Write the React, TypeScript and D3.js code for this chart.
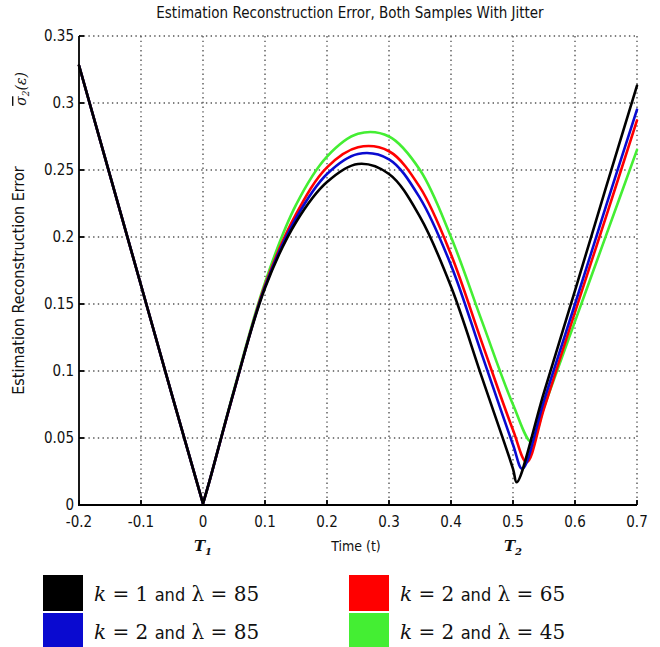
import React from "react";
import * as d3 from "d3";

// Shared sample times (seconds)
const TIME = [-0.2, -0.15, -0.1, -0.05, 0, 0.01, 0.05, 0.1, 0.15, 0.2, 0.25, 0.3, 0.35, 0.4, 0.45, 0.5, 0.55, 0.6, 0.65, 0.7];

// Estimation reconstruction error for each parameter set, at TIME
const ERR_K1_L85 = [0.328, 0.246, 0.164, 0.082, 0.001, 0.017, 0.085, 0.162, 0.211, 0.241, 0.2545, 0.247, 0.215, 0.163, 0.095, 0.027, 0.084, 0.16, 0.237, 0.313];
const ERR_K2_L85 = [0.328, 0.246, 0.164, 0.082, 0.001, 0.017, 0.085, 0.163, 0.214, 0.247, 0.262, 0.258, 0.229, 0.179, 0.112, 0.045, 0.078, 0.15, 0.223, 0.295];
const ERR_K2_L65 = [0.328, 0.246, 0.164, 0.082, 0.001, 0.017, 0.085, 0.164, 0.217, 0.252, 0.267, 0.264, 0.237, 0.187, 0.121, 0.056, 0.072, 0.144, 0.215, 0.287];
const ERR_K2_L45 = [0.328, 0.246, 0.164, 0.082, 0.001, 0.017, 0.086, 0.166, 0.224, 0.26, 0.277, 0.275, 0.25, 0.2, 0.137, 0.075, 0.073, 0.137, 0.201, 0.265];

// Minimum of each curve near T2: time and value
const TROUGH_T = [0.506, 0.515, 0.522, 0.53];
const TROUGH_V = [0.017, 0.027, 0.032, 0.047];

const SERIES_LABEL_K = ["1", "2", "2", "2"];
const SERIES_LABEL_L = ["85", "85", "65", "45"];
const SERIES_COLOR = ["#000000", "#0a0ad0", "#ff0000", "#44ee33"];
const SERIES_VALUES = [ERR_K1_L85, ERR_K2_L85, ERR_K2_L65, ERR_K2_L45];

const X_TICKS = [-0.2, -0.1, 0, 0.1, 0.2, 0.3, 0.4, 0.5, 0.6, 0.7];
const Y_TICKS = [0, 0.05, 0.1, 0.15, 0.2, 0.25, 0.3, 0.35];

const W = 660;
const H = 647;
const LEFT = 79;
const RIGHT = 637;
const TOP = 36;
const BOTTOM = 505;

const NARROW = "'DejaVu Sans Condensed', 'Liberation Sans Narrow', 'Arial Narrow', 'Liberation Sans', Arial, sans-serif";
const MATH = "'DejaVu Serif', 'Liberation Serif', serif";

export default function App() {
  const x = d3.scaleLinear().domain([-0.2, 0.7]).range([LEFT, RIGHT]);
  const y = d3.scaleLinear().domain([0, 0.35]).range([BOTTOM, TOP]);

  const straight = d3
    .line<[number, number]>()
    .x((d) => x(d[0]))
    .y((d) => y(d[1]));
  const smooth = d3
    .line<[number, number]>()
    .x((d) => x(d[0]))
    .y((d) => y(d[1]))
    .curve(d3.curveCatmullRom.alpha(0.5));

  // straight flank before T1, then a smooth curve through the arch, the trough and the rising flank
  const seriesPath = SERIES_VALUES.map((vals, i) => {
    const pts: [number, number][] = TIME.map((t, j) => [t, vals[j]]);
    pts.push([TROUGH_T[i], TROUGH_V[i]]);
    pts.sort((a, b) => a[0] - b[0]);
    const left = pts.filter((p) => p[0] <= 0);
    const rest = pts.filter((p) => p[0] >= 0);
    return (straight(left) || "") + (smooth(rest) || "");
  });

  // draw order: green, red, blue, black on top
  const order = [3, 2, 1, 0];

  const fmt = (v: number) => String(Math.round(v * 100) / 100);

  const legendPos = [
    { lx: 43, ly: 575 },
    { lx: 43, ly: 613 },
    { lx: 349, ly: 575 },
    { lx: 349, ly: 613 },
  ];

  return (
    <svg
      width={W}
      height={H}
      style={{ position: "absolute", left: 0, top: 0, background: "#fff" }}
    >
      <rect x={0} y={0} width={W} height={H} fill="#fff" />

      {/* title */}
      <text
        x={(LEFT + RIGHT) / 2 - 8}
        y={18}
        textAnchor="middle"
        fontFamily={NARROW}
        fontSize={15}
        fill="#111"
      >
        Estimation Reconstruction Error, Both Samples With Jitter
      </text>

      {/* dotted grid */}
      <g stroke="#555" strokeWidth={1.4} strokeDasharray="1.4,3.3" fill="none">
        {X_TICKS.filter((t) => t > -0.2).map((t) => (
          <line key={"gx" + t} x1={x(t)} x2={x(t)} y1={TOP} y2={BOTTOM} />
        ))}
        {Y_TICKS.filter((t) => t > 0).map((t) => (
          <line key={"gy" + t} x1={LEFT} x2={RIGHT} y1={y(t)} y2={y(t)} />
        ))}
      </g>

      {/* curves */}
      <g fill="none" strokeWidth={2.6} strokeLinejoin="round" strokeLinecap="round">
        {order.map((i) => (
          <path key={"s" + i} d={seriesPath[i]} stroke={SERIES_COLOR[i]} />
        ))}
      </g>

      {/* axes */}
      <g stroke="#000" strokeWidth={1.8} fill="none">
        <line x1={LEFT} x2={LEFT} y1={TOP} y2={BOTTOM + 0.9} />
        <line x1={LEFT - 0.9} x2={RIGHT} y1={BOTTOM} y2={BOTTOM} />
        {X_TICKS.map((t) => (
          <line key={"tx" + t} x1={x(t)} x2={x(t)} y1={BOTTOM} y2={BOTTOM - 5} />
        ))}
        {Y_TICKS.map((t) => (
          <line key={"ty" + t} x1={LEFT} x2={LEFT + 5} y1={y(t)} y2={y(t)} />
        ))}
      </g>

      {/* tick labels */}
      <g fontFamily={NARROW} fontSize={15} fill="#111">
        {X_TICKS.map((t) => (
          <text key={"lx" + t} x={x(t)} y={BOTTOM + 22} textAnchor="middle">
            {fmt(t)}
          </text>
        ))}
        {Y_TICKS.map((t) => (
          <text key={"ly" + t} x={LEFT - 5} y={y(t) + 5} textAnchor="end">
            {fmt(t)}
          </text>
        ))}
      </g>

      {/* axis labels */}
      <text
        x={(LEFT + RIGHT) / 2 - 2}
        y={551}
        textAnchor="middle"
        fontFamily={NARROW}
        fontSize={14}
        fill="#111"
      >
        Time (t)
      </text>
      <text x={x(0)} y={551} textAnchor="middle" fontFamily={MATH} fontStyle="italic" fontWeight="bold" fontSize={15} fill="#111">
        T<tspan fontSize={10} dy={4}>1</tspan>
      </text>
      <text x={x(0.5)} y={551} textAnchor="middle" fontFamily={MATH} fontStyle="italic" fontWeight="bold" fontSize={15} fill="#111">
        T<tspan fontSize={10} dy={4}>2</tspan>
      </text>

      <text
        transform={`translate(24, ${(TOP + BOTTOM) / 2 + 10}) rotate(-90)`}
        textAnchor="middle"
        fontFamily={NARROW}
        fontSize={16}
        fill="#111"
      >
        Estimation Reconstruction Error
      </text>
      <text
        transform={`translate(26, 89) rotate(-90)`}
        textAnchor="middle"
        fontFamily={MATH}
        fontStyle="italic"
        fontSize={14}
        fill="#111"
      >
        <tspan textDecoration="overline">σ</tspan>
        <tspan fontSize={9} dy={3}>2</tspan>
        <tspan dy={-3}>(ε)</tspan>
      </text>

      {/* legend */}
      {legendPos.map((p, i) => (
        <g key={"lg" + i}>
          <rect x={p.lx} y={p.ly} width={40} height={36} fill={SERIES_COLOR[i]} />
          <text x={p.lx + 51} y={p.ly + 26} fontSize={20} fill="#111">
            <tspan fontFamily={MATH} fontStyle="italic">k</tspan>
            <tspan fontFamily={MATH}>{" = " + SERIES_LABEL_K[i] + " "}</tspan>
            <tspan fontFamily={NARROW} fontSize={18}>and</tspan>
            <tspan fontFamily={MATH}>{" λ = " + SERIES_LABEL_L[i]}</tspan>
          </text>
        </g>
      ))}
    </svg>
  );
}
